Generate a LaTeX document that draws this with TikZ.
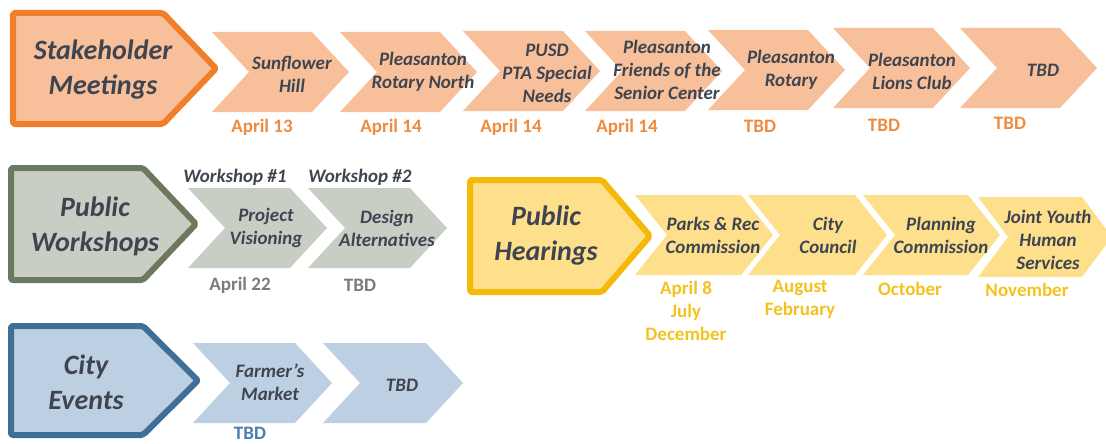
\documentclass[tikz,border=0pt]{standalone}
\usepackage{fontspec}
\setmainfont{Carlito}

\definecolor{ink}{HTML}{3F4550}
\definecolor{shkline}{HTML}{F07E2A}
\definecolor{shkfill}{HTML}{F8C09A}
\definecolor{shkdate}{HTML}{EE8B3E}
\definecolor{wkline}{HTML}{6B7A5F}
\definecolor{wkfill}{HTML}{C9CEC5}
\definecolor{wkdate}{HTML}{7B7B7B}
\definecolor{hrline}{HTML}{F5B90A}
\definecolor{hrfill}{HTML}{FDDF8C}
\definecolor{hrdate}{HTML}{F3C21C}
\definecolor{evline}{HTML}{3F6E97}
\definecolor{evfill}{HTML}{BDD0E3}
\definecolor{evdate}{HTML}{4A7CAE}

% #1 colours, #2 left, #3 top, #4 width, #5 point depth (height is 80)
\newcommand{\chevshape}[5]{\fill[#1] (#2,#3) -- ++(#4-#5,0) -- ++(#5,40) -- ++(-#5,40) -- ++(-#4+#5,0) -- ++(#5,-40) -- cycle;}
% #1 colours, #2 left, #3 top, #4 slant start, #5 tip, #6 bottom
\newcommand{\hdrshape}[6]{\draw[#1] (#2,#3) -- (#4,#3) -- (#5,{(#3+#6)/2}) -- (#4,#6) -- (#2,#6) -- cycle;}

\begin{document}
\begin{tikzpicture}[x=1pt, y=-1pt, inner sep=0pt,
    hdr/.style={line width=6pt, line join=round, rounded corners=2pt},
    big/.style={align=center, text=ink, font=\fontsize{28}{35}\selectfont\bfseries\itshape},
    lbl/.style={align=center, text=ink, font=\fontsize{19}{23}\selectfont\bfseries\itshape},
    when/.style={align=center, font=\fontsize{19}{23}\selectfont\bfseries}]
        \useasboundingbox (0, 0) rectangle (1106, 444);
        \clip (0, 0) rectangle (1106, 444);

        % stakeholder meetings
        \hdrshape{hdr, draw=shkline, fill=shkfill}{13}{13}{163}{216}{124}
        \node[big] (shk) at (103, 70) {Stakeholder\\Meetings};
        \chevshape{shkfill}{212}{32}{137}{37}
        \chevshape{shkfill}{340}{32}{137}{37}
        \chevshape{shkfill}{463}{31}{137}{37}
        \chevshape{shkfill}{585}{31}{137}{37}
        \chevshape{shkfill}{708}{30}{137}{37}
        \chevshape{shkfill}{833}{28}{137}{37}
        \chevshape{shkfill}{960}{28}{137}{37}
        \node[lbl] (sunflower) at (292, 74) {Sunflower\\Hill};
        \node[lbl] (rotnorth) at (423, 72) {Pleasanton\\Rotary North};
        \node[lbl] (pusd) at (547, 73) {PUSD\\PTA Special\\Needs};
        \node[lbl] (friends) at (667, 70) {Pleasanton\\Friends of the\\Senior Center};
        \node[lbl] (rotary) at (791, 70) {Pleasanton\\Rotary};
        \node[lbl] (lions) at (912, 71) {Pleasanton\\Lions Club};
        \node[lbl] (shktbd) at (1043, 70) {TBD};
        \node[when, text=shkdate] (d1) at (262, 127) {April 13};
        \node[when, text=shkdate] (d2) at (391, 127) {April 14};
        \node[when, text=shkdate] (d3) at (511, 127) {April 14};
        \node[when, text=shkdate] (d4) at (627, 127) {April 14};
        \node[when, text=shkdate] (d5) at (760, 126) {TBD};
        \node[when, text=shkdate] (d6) at (884, 125) {TBD};
        \node[when, text=shkdate] (d7) at (1010, 123) {TBD};

        % public workshops
        \hdrshape{hdr, draw=wkline, fill=wkfill}{11}{168}{143}{196}{280}
        \node[big] (wk) at (95, 226) {Public\\Workshops};
        \chevshape{wkfill}{188}{188}{139}{37}
        \chevshape{wkfill}{308}{188}{139}{37}
        \node[lbl] (vision) at (266, 228) {Project\\Visioning};
        \node[lbl] (design) at (387, 228) {Design\\Alternatives};
        \node[lbl] (ws1) at (235, 177) {Workshop \#1};
        \node[lbl] (ws2) at (360, 177) {Workshop \#2};
        \node[when, text=wkdate] (d8) at (240, 285) {April 22};
        \node[when, text=wkdate] (d9) at (360, 285) {TBD};

        % public hearings
        \hdrshape{hdr, draw=hrline, fill=hrfill}{470}{180}{602}{650}{292}
        \node[big] (hr) at (546, 236) {Public\\Hearings};
        \chevshape{hrfill}{635}{195}{138}{32}
        \chevshape{hrfill}{748}{195}{139}{32}
        \chevshape{hrfill}{863}{195}{137}{32}
        \chevshape{hrfill}{978}{197}{134}{30}
        \node[lbl] (parks) at (713, 235) {Parks \& Rec\\Commission};
        \node[lbl] (council) at (828, 235) {City\\Council};
        \node[lbl] (planning) at (941, 235) {Planning\\Commission};
        \node[lbl] (youth) at (1048, 240) {Joint Youth\\Human\\Services};
        \node[when, text=hrdate] (d10) at (686, 311) {April 8\\July\\December};
        \node[when, text=hrdate] (d11) at (800, 299) {August\\February};
        \node[when, text=hrdate] (d12) at (910, 289) {October};
        \node[when, text=hrdate] (d13) at (1027, 290) {November};

        % city events
        \hdrshape{hdr, draw=evline, fill=evfill}{11}{326}{143}{198}{435}
        \node[big] (ev) at (86, 382) {City\\Events};
        \chevshape{evfill}{193}{343}{139}{37}
        \chevshape{evfill}{323}{343}{140}{37}
        \node[lbl] (farmers) at (270, 382) {Farmer’s\\Market};
        \node[lbl] (evtbd) at (402, 385) {TBD};
        \node[when, text=evdate] (d14) at (250, 433) {TBD};
    \end{tikzpicture}
\end{document}
